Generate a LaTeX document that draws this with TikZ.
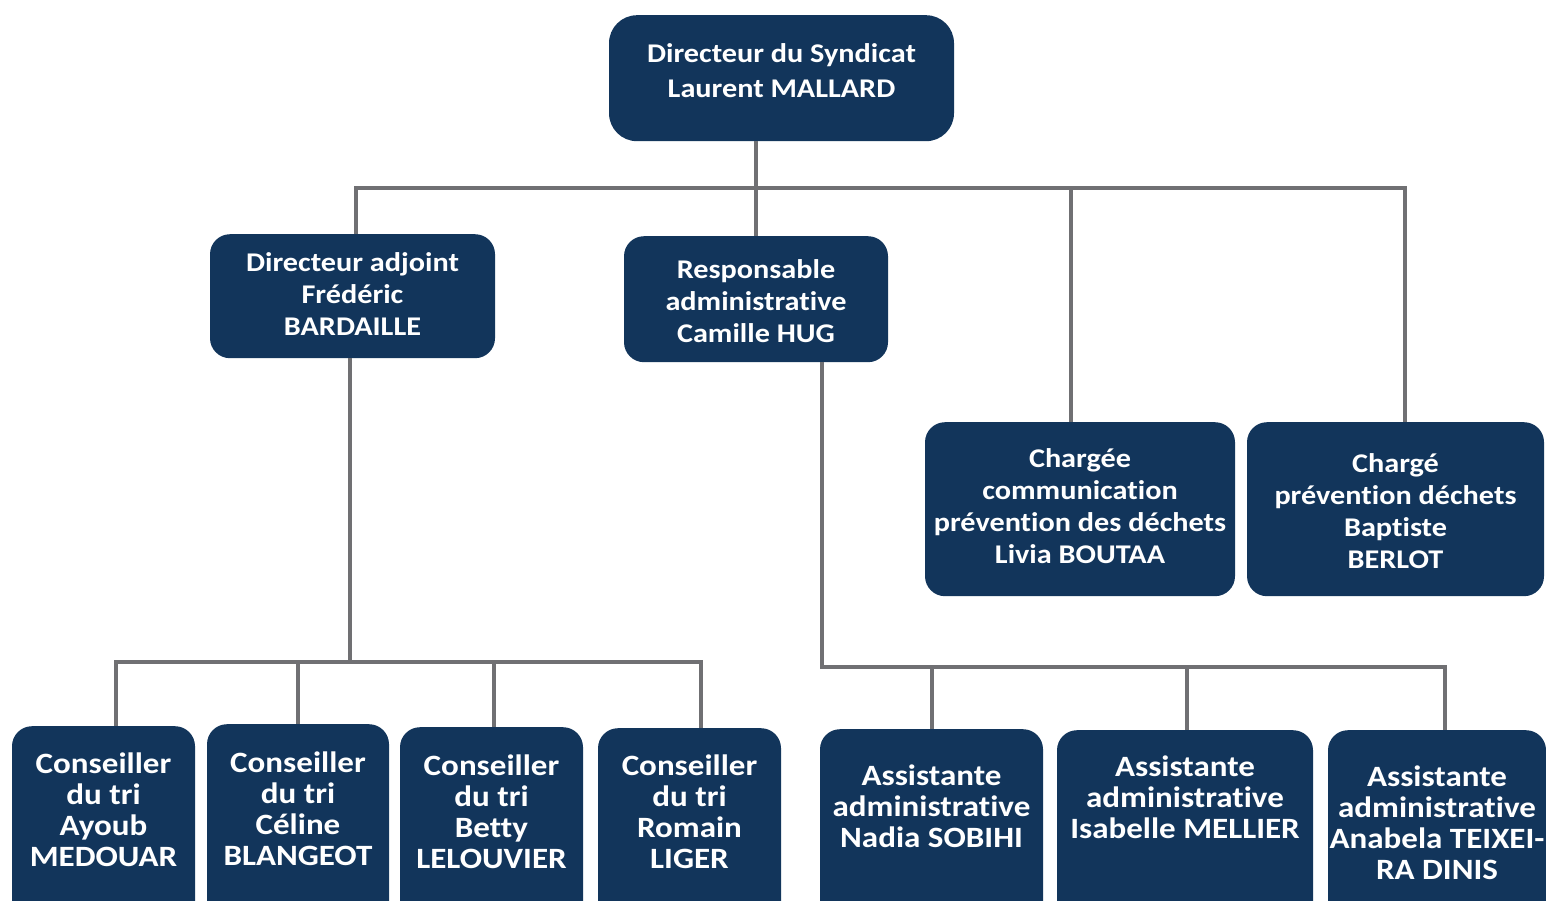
\documentclass[tikz,border=0pt]{standalone}
\usepackage{fontspec}
\setmainfont[FakeStretch=1.12, Ligatures=NoCommon]{Carlito}
\definecolor{navy}{HTML}{12355B}
\definecolor{trait}{HTML}{707073}
\tikzset{
  poste/.style={fill=navy, text=white, rounded corners=20pt, align=center,
    anchor=north, inner xsep=0pt, inner ysep=0pt,
    font=\bfseries\fontsize{27pt}{32pt}\selectfont},
  agent/.style={poste, font=\bfseries\fontsize{29.5pt}{31pt}\selectfont},
  lien/.style={draw=trait, line width=4pt, line join=miter}
}
\begin{document}
\begin{tikzpicture}[x=1pt,y=-1pt]
		\path[use as bounding box] (0,0) rectangle (1546,900);
		\clip (0,0) rectangle (1546,900);
		%direction
		\node[poste, rounded corners=28pt, font=\bfseries\fontsize{27pt}{35pt}\selectfont,
			minimum width=345pt, text height=82pt, text depth=44pt] (dir) at (781.5,15)
			{Directeur du Syndicat\\Laurent MALLARD};
		\node[poste, minimum width=285pt, text height=101pt, text depth=23pt] (adj) at (352.5,234)
			{Directeur adjoint\\Fr\'ed\'eric\\BARDAILLE};
		\node[poste, minimum width=264pt, text height=106pt, text depth=20pt] (resp) at (756,236)
			{Responsable\\administrative\\Camille HUG};
		\node[poste, minimum width=310pt, text height=141pt, text depth=33pt] (comm) at (1080,422)
			{Charg\'ee\\communication\\pr\'evention des d\'echets\\Livia BOUTAA};
		\node[poste, minimum width=297pt, text height=146pt, text depth=28pt] (prev) at (1395.5,422)
			{Charg\'e\\pr\'evention d\'echets\\Baptiste\\BERLOT};
		%conseillers du tri
		\node[agent, minimum width=183pt, text height=140pt, text depth=64pt] (ayoub) at (103.5,726)
			{Conseiller\\du tri\\Ayoub\\MEDOUAR};
		\node[agent, minimum width=182pt, text height=141pt, text depth=65pt] (celine) at (298,724)
			{Conseiller\\du tri\\C\'eline\\BLANGEOT};
		\node[agent, minimum width=183pt, text height=141pt, text depth=62pt] (betty) at (491.5,727)
			{Conseiller\\du tri\\Betty\\LELOUVIER};
		\node[agent, minimum width=183pt, text height=140pt, text depth=62pt] (romain) at (689.5,728)
			{Conseiller\\du tri\\Romain\\LIGER};
		%assistantes
		\node[agent, minimum width=223pt, text height=118pt, text depth=83pt] (nadia) at (931.5,729)
			{Assistante\\administrative\\Nadia SOBIHI};
		\node[agent, minimum width=256pt, text height=108pt, text depth=92pt] (isabelle) at (1185,730)
			{Assistante\\administrative\\Isabelle MELLIER};
		\node[agent, minimum width=218pt, text height=149pt, text depth=51pt] (anabela) at (1437,730)
			{Assistante\\administrative\\Anabela TEIXEI-\\RA DINIS};
		%liens
		\coordinate (bus) at (758,188);
		\coordinate (busadj) at (350,662);
		\coordinate (busresp) at (822,667);
		\draw[lien] (dir.south -| resp.north) -- (resp.north);
		\draw[lien] ([xshift=3pt]adj.north) |- (bus) -| ([xshift=9pt]prev.north);
		\draw[lien] ([xshift=-9pt]comm.north) |- (bus);
		\draw[lien] (busadj |- adj.south) -- (busadj);
		\draw[lien] ([xshift=12pt]ayoub.north) |- (busadj) -| ([xshift=11pt]romain.north);
		\draw[lien] (celine.north) |- (busadj);
		\draw[lien] ([xshift=2pt]betty.north) |- (busadj);
		\draw[lien] ([xshift=66pt]resp.south) -- (busresp) -| ([xshift=8pt]anabela.north);
		\draw[lien] (nadia.north) |- (busresp);
		\draw[lien] ([xshift=2pt]isabelle.north) |- (busresp);
	\end{tikzpicture}
\end{document}
